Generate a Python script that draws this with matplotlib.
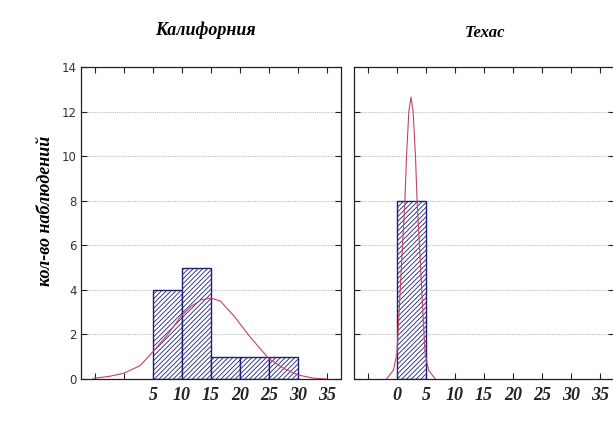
import numpy as np
import matplotlib
matplotlib.use("Agg")
import matplotlib.pyplot as plt

# --- data ---
titles = ["Калифорния", "Техас"]
ylabel = "кол-во наблюдений"

# histogram bins (left edge) and counts
ca_bins = [5, 10, 15, 20, 25]
ca_counts = [4, 5, 1, 1, 1]
tx_bins = [0]
tx_counts = [8]
bin_width = 5

# fitted normal curves
ca_curve_x = [-5.3, -2.5, 0, 2.8, 5, 7.4, 9.8, 11.5, 13.3, 15, 16.6, 18.9, 21.7, 24.9, 27.5, 30, 32.6, 35]
ca_curve_y = [0.03, 0.12, 0.26, 0.6, 1.23, 1.95, 2.8, 3.25, 3.55, 3.63, 3.5, 2.85, 1.9, 0.93, 0.48, 0.18, 0.04, 0.0]
tx_curve_x = [-1.8, -0.6, 0, 0.57, 1.0, 1.37, 1.65, 2.05, 2.42, 2.79, 3.19, 3.47, 3.84, 4.27, 4.84, 5.44, 6.6]
tx_curve_y = [0.0, 0.4, 1.15, 4.0, 6.2, 8.0, 10.0, 12.0, 12.65, 12.0, 10.0, 8.0, 6.2, 4.0, 1.15, 0.4, 0.0]

xticks = [-5, 0, 5, 10, 15, 20, 25, 30, 35]
ca_xlabels = ["", "", "5", "10", "15", "20", "25", "30", "35"]
tx_xlabels = ["", "0", "5", "10", "15", "20", "25", "30", "35"]
yticks = [0, 2, 4, 6, 8, 10, 12, 14]

BAR_COLOR = "#1f1f7a"
CURVE_COLOR = "#c04462"
serif = ["Liberation Serif", "DejaVu Serif"]

plt.rcParams["hatch.linewidth"] = 0.6

fig = plt.figure(figsize=(6.13, 4.32), dpi=100)
ax1 = fig.add_axes([81 / 613, 53 / 432, 260 / 613, 312 / 432])
ax2 = fig.add_axes([354 / 613, 53 / 432, 260 / 613, 312 / 432])

panels = [
    (ax1, ca_bins, ca_counts, ca_curve_x, ca_curve_y, ca_xlabels),
    (ax2, tx_bins, tx_counts, tx_curve_x, tx_curve_y, tx_xlabels),
]

for i, (ax, bins, counts, cx, cy, xl) in enumerate(panels):
    ax.bar(bins, counts, width=bin_width, align="edge", facecolor="white",
           edgecolor=BAR_COLOR, hatch="///////", linewidth=1.0, zorder=2)
    ax.plot(cx, cy, color=CURVE_COLOR, linewidth=0.8, zorder=3)

    ax.set_xlim(-7.4, 37.4)
    ax.set_ylim(0, 14)
    ax.set_xticks(xticks)
    ax.set_xticklabels(xl, fontfamily=serif, fontweight="bold",
                       fontstyle="italic", fontsize=13)
    ax.set_yticks(yticks)
    for y in yticks[1:-1]:
        ax.axhline(y, color="#bdbdbd", linestyle=(0, (1, 1)), linewidth=0.8, zorder=1)

    ax.tick_params(direction="in", length=4, width=0.8, top=True, right=True,
                   pad=6, colors="#222222")
    ax.tick_params(axis="y", labelsize=8.5, labelcolor="#333333", pad=3)
    for s in ax.spines.values():
        s.set_color("#222222")
        s.set_linewidth(0.9)
    if i == 1:
        ax.set_yticklabels([])

ax1.set_ylabel(ylabel, fontfamily=serif, fontweight="bold", fontstyle="italic",
               fontsize=13, labelpad=4)
ax1.yaxis.set_label_coords(-0.105, 0.54)

fig.text(205 / 613, 1 - 30 / 432, titles[0], ha="center", va="center",
         fontfamily=serif, fontweight="bold", fontstyle="italic", fontsize=13)
fig.text(485 / 613, 1 - 33 / 432, titles[1], ha="center", va="center",
         fontfamily=serif, fontweight="bold", fontstyle="italic", fontsize=12)

fig.savefig("out.png", dpi=100, facecolor="white")
